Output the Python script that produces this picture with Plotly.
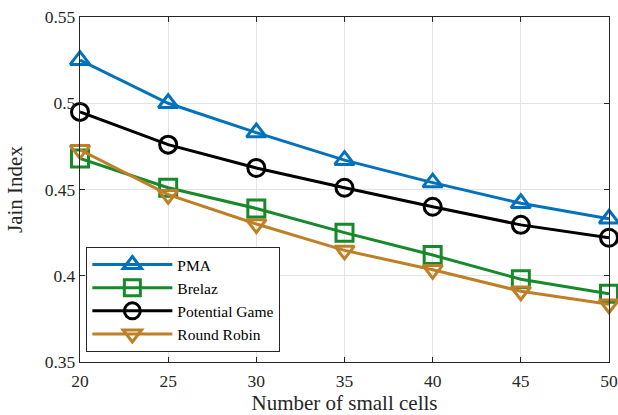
import plotly.graph_objects as go

# Number of small cells on the x axis
cells = [20, 25, 30, 35, 40, 45, 50]

# Jain fairness index per scheme
pma = [0.525, 0.500, 0.483, 0.467, 0.454, 0.442, 0.433]
brelaz = [0.468, 0.451, 0.439, 0.425, 0.412, 0.398, 0.3895]
potential_game = [0.495, 0.476, 0.4625, 0.451, 0.440, 0.4295, 0.422]
round_robin = [0.473, 0.447, 0.430, 0.4147, 0.4035, 0.391, 0.3835]

x_ticks = [20, 25, 30, 35, 40, 45, 50]
y_ticks = [0.35, 0.4, 0.45, 0.5, 0.55]
y_tick_text = ["0.35", "0.4", "0.45", "0.5", "0.55"]

series = [
    ("PMA", pma, "#0072BD", "triangle-up-open"),
    ("Brelaz", brelaz, "#168A2A", "square-open"),
    ("Potential Game", potential_game, "#000000", "circle-open"),
    ("Round Robin", round_robin, "#BF7F26", "triangle-down-open"),
]

FONT = "Liberation Serif"

fig = go.Figure()
for name, vals, color, symbol in series:
    fig.add_trace(go.Scatter(
        x=cells, y=vals, name=name, mode="lines+markers",
        line=dict(color=color, width=3),
        marker=dict(symbol=symbol, size=17, color=color,
                    line=dict(color=color, width=3)),
        cliponaxis=False,
    ))

axis_common = dict(
    showgrid=True, gridcolor="#e3e3e3", gridwidth=1,
    showline=True, linecolor="#262626", linewidth=1.3, mirror="ticks",
    ticks="inside", ticklen=5, tickcolor="#262626", tickwidth=1.3,
    zeroline=False, automargin=False,
    tickfont=dict(family=FONT, size=17.5, color="#262626"),
)

fig.update_layout(
    width=618, height=415,
    margin=dict(l=80, r=9, t=17, b=53),
    paper_bgcolor="white", plot_bgcolor="white",
    font=dict(family=FONT, color="#262626"),
    xaxis=dict(range=[20, 50], tickvals=x_ticks, ticklabelstandoff=3,
               title=dict(text="Number of small cells", standoff=5,
                          font=dict(family=FONT, size=21, color="#262626")),
               **axis_common),
    yaxis=dict(range=[0.35, 0.55], tickvals=y_ticks, ticktext=y_tick_text,
               title=dict(text="Jain Index", standoff=16,
                          font=dict(family=FONT, size=21, color="#262626")),
               **axis_common),
    legend=dict(x=0.012, y=0.029, xanchor="left", yanchor="bottom",
                bgcolor="white", bordercolor="#262626", borderwidth=1,
                font=dict(family=FONT, size=15.5, color="#000000"),
                itemwidth=80, entrywidth=120, tracegroupgap=0),
    showlegend=True,
)

fig.write_html("out.html")
